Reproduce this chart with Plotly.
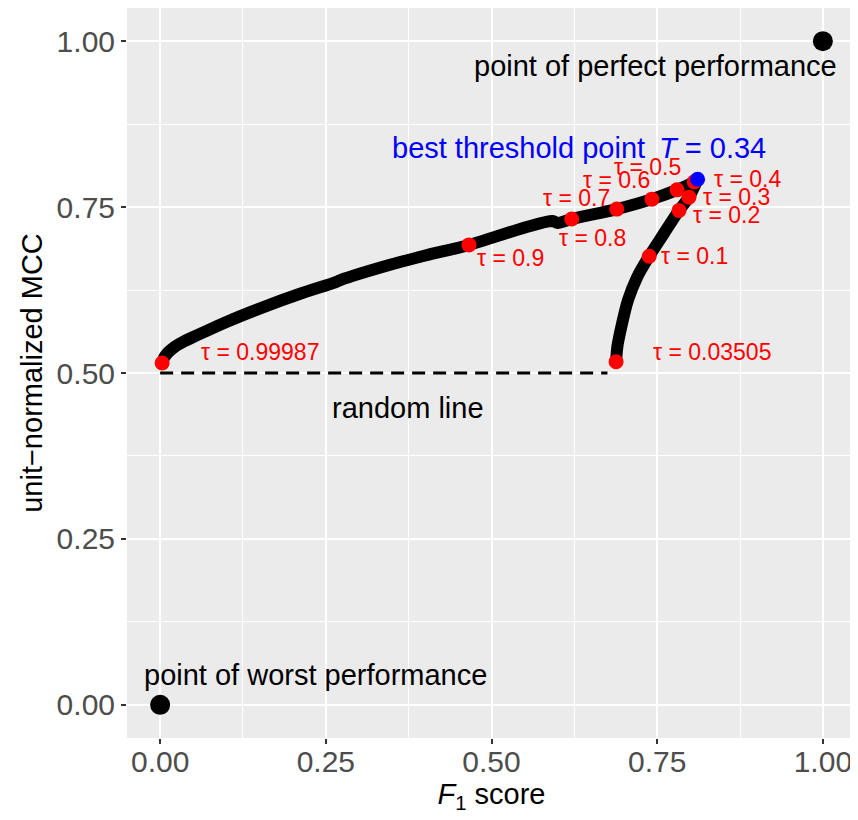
import plotly.graph_objects as go

# ---- data ----
upper_f1 = [0.003, 0.006, 0.012, 0.020, 0.035, 0.056, 0.100, 0.155, 0.210, 0.265, 0.272,
            0.347, 0.400, 0.466, 0.553, 0.592, 0.600, 0.621, 0.689, 0.742, 0.780, 0.806, 0.811]
upper_mcc = [0.515, 0.523, 0.531, 0.538, 0.547, 0.557, 0.577, 0.599, 0.619, 0.637, 0.640,
             0.663, 0.677, 0.693, 0.720, 0.729, 0.726, 0.732, 0.747, 0.762, 0.776, 0.788, 0.792]
lower_f1 = [0.811, 0.798, 0.783, 0.760, 0.738, 0.720, 0.706, 0.696, 0.690, 0.688]
lower_mcc = [0.792, 0.765, 0.745, 0.710, 0.676, 0.645, 0.610, 0.570, 0.540, 0.517]

tau_labels = ["0.99987", "0.9", "0.8", "0.7", "0.6", "0.5", "0.4", "0.3", "0.2", "0.1", "0.03505"]
tau_f1 = [0.003, 0.466, 0.621, 0.689, 0.742, 0.780, 0.806, 0.798, 0.783, 0.738, 0.688]
tau_mcc = [0.515, 0.693, 0.732, 0.747, 0.762, 0.776, 0.788, 0.765, 0.745, 0.676, 0.517]

best_f1 = [0.811]
best_mcc = [0.792]
best_T = "0.34"

extreme_f1 = [0.0, 1.0]
extreme_mcc = [0.0, 1.0]

random_f1 = [0.0, 0.675]
random_mcc = [0.5, 0.5]

axis_ticks = [0.0, 0.25, 0.5, 0.75, 1.0]
axis_ticktext = ["0.00", "0.25", "0.50", "0.75", "1.00"]

# label placement (layout only)
tau_lab_x = [0.151, 0.528, 0.653, 0.629, 0.689, 0.736, 0.887, 0.870, 0.855, 0.807, 0.833]
tau_lab_y = [0.532, 0.673, 0.703, 0.764, 0.791, 0.810, 0.792, 0.765, 0.738, 0.676, 0.532]

FONT = "Liberation Sans, Arial, sans-serif"

fig = go.Figure()

for xs, ys in ((upper_f1, upper_mcc), (lower_f1, lower_mcc)):
    fig.add_trace(go.Scatter(x=xs, y=ys, mode="lines",
                             line=dict(color="black", width=12, shape="spline", smoothing=0.8),
                             hoverinfo="skip"))
fig.add_trace(go.Scatter(x=random_f1, y=random_mcc, mode="lines",
                         line=dict(color="black", width=3, dash="13px,8px"), hoverinfo="skip"))
fig.add_trace(go.Scatter(x=tau_f1, y=tau_mcc, mode="markers",
                         marker=dict(color="red", size=15, line=dict(width=0))))
fig.add_trace(go.Scatter(x=best_f1, y=best_mcc, mode="markers",
                         marker=dict(color="blue", size=15, line=dict(width=0))))
fig.add_trace(go.Scatter(x=extreme_f1, y=extreme_mcc, mode="markers",
                         marker=dict(color="black", size=20, line=dict(width=0))))

annotations = []
for lab, lx, ly in zip(tau_labels, tau_lab_x, tau_lab_y):
    annotations.append(dict(x=lx, y=ly, text="τ = " + lab, showarrow=False,
                            xanchor="center", yanchor="middle",
                            font=dict(color="red", size=23, family=FONT)))

annotations += [
    dict(x=0.747, y=0.962, text="point of perfect performance", showarrow=False,
         font=dict(color="black", size=29, family=FONT)),
    dict(x=0.234, y=0.045, text="point of worst performance", showarrow=False,
         font=dict(color="black", size=29, family=FONT)),
    dict(x=0.374, y=0.447, text="random line", showarrow=False,
         font=dict(color="black", size=29, family=FONT)),
    dict(x=0.540, y=0.839, text="best threshold point", showarrow=False,
         font=dict(color="blue", size=29, family=FONT)),
    dict(x=0.833, y=0.839, text="<i>T</i> = " + best_T, showarrow=False,
         font=dict(color="blue", size=29, family=FONT)),
]

axis_common = dict(
    range=[-0.05, 1.05], tickvals=axis_ticks, ticktext=axis_ticktext,
    showgrid=True, gridcolor="white", gridwidth=2,
    zeroline=False, showline=False, automargin=False,
    ticks="outside", ticklen=5, tickwidth=1.5, tickcolor="#333333",
    tickfont=dict(size=30, color="#4D4D4D", family=FONT),
    minor=dict(dtick=0.125, tick0=0.125, showgrid=True, gridcolor="white", gridwidth=1),
)

# page body has an 8px default margin, so the figure is sized to fit the window
fig.update_layout(
    width=850, height=812,
    margin=dict(l=119, r=2, t=0, b=82),
    paper_bgcolor="white", plot_bgcolor="#EBEBEB",
    showlegend=False,
    font=dict(family=FONT),
    annotations=annotations,
    xaxis=dict(**axis_common, ticklabelstandoff=-8,
               title=dict(text="<i>F</i><sub>1</sub> score",
                          font=dict(size=29, color="black", family=FONT), standoff=4)),
    yaxis=dict(**axis_common,
               title=dict(text="unit\u2212normalized MCC",
                          font=dict(size=29, color="black", family=FONT), standoff=5)),
)

fig.write_html("out.html")
